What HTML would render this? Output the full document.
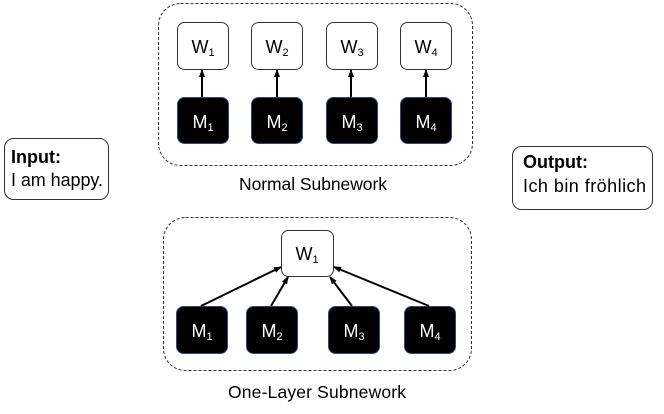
<!DOCTYPE html>
<html><head><style>
body{margin:0;width:664px;height:409px;background:#fff;overflow:hidden;font-family:"Liberation Sans",sans-serif}
</style></head><body>
<svg width="664" height="409" xmlns="http://www.w3.org/2000/svg" font-family="Liberation Sans, sans-serif">
<defs><marker id="a" markerWidth="8" markerHeight="8" refX="7" refY="4" orient="auto" markerUnits="userSpaceOnUse"><path d="M0,1 L8,4 L0,7 z" fill="#000"/></marker></defs>
<rect x="158.5" y="3.5" width="314" height="162" rx="22" fill="none" stroke="#333" stroke-dasharray="3,2"/>
<rect x="163.5" y="217.5" width="308" height="153" rx="22" fill="none" stroke="#333" stroke-dasharray="3,2"/>
<g stroke="#333" fill="#fff">
<rect x="177.5" y="22.5" width="51" height="47" rx="7"/>
<rect x="251.5" y="22.5" width="51" height="47" rx="7"/>
<rect x="326.5" y="22.5" width="51" height="47" rx="7"/>
<rect x="400.5" y="22.5" width="51" height="47" rx="7"/>
<rect x="281.5" y="230.5" width="52" height="46" rx="7"/>
<rect x="4.5" y="138.5" width="104" height="61" rx="9"/>
<rect x="512.5" y="146.5" width="140" height="63" rx="9"/>
</g>
<g fill="#000" stroke="#2a4a7a">
<rect x="177.5" y="97.5" width="51" height="46" rx="7"/>
<rect x="251.5" y="97.5" width="51" height="46" rx="7"/>
<rect x="326.5" y="97.5" width="51" height="46" rx="7"/>
<rect x="400.5" y="97.5" width="51" height="46" rx="7"/>
<rect x="176.5" y="306.5" width="51" height="47" rx="7"/>
<rect x="246.5" y="306.5" width="51" height="47" rx="7"/>
<rect x="328.5" y="306.5" width="51" height="47" rx="7"/>
<rect x="404.5" y="306.5" width="51" height="47" rx="7"/>
</g>
<g stroke="#000" stroke-width="2" marker-end="url(#a)">
<line x1="202" y1="97" x2="202" y2="70"/>
<line x1="277" y1="97" x2="277" y2="70"/>
<line x1="351" y1="97" x2="351" y2="70"/>
<line x1="426" y1="97" x2="426" y2="70"/>
<line x1="201" y1="306" x2="281" y2="267"/>
<line x1="271" y1="306" x2="288" y2="277"/>
<line x1="352" y1="306" x2="330" y2="277"/>
<line x1="429" y1="306" x2="334" y2="267"/>
</g>
<g font-size="18" text-anchor="middle" fill="#000">
<text x="203" y="53">W<tspan font-size="11" dy="3">1</tspan></text>
<text x="277" y="53">W<tspan font-size="11" dy="3">2</tspan></text>
<text x="352" y="53">W<tspan font-size="11" dy="3">3</tspan></text>
<text x="426" y="53">W<tspan font-size="11" dy="3">4</tspan></text>
<text x="307" y="260">W<tspan font-size="11" dy="3">1</tspan></text>
</g>
<g font-size="18" text-anchor="middle" fill="#fff">
<text x="203" y="128">M<tspan font-size="11" dy="3">1</tspan></text>
<text x="277" y="128">M<tspan font-size="11" dy="3">2</tspan></text>
<text x="352" y="128">M<tspan font-size="11" dy="3">3</tspan></text>
<text x="426" y="128">M<tspan font-size="11" dy="3">4</tspan></text>
<text x="202" y="337">M<tspan font-size="11" dy="3">1</tspan></text>
<text x="272" y="337">M<tspan font-size="11" dy="3">2</tspan></text>
<text x="354" y="337">M<tspan font-size="11" dy="3">3</tspan></text>
<text x="430" y="337">M<tspan font-size="11" dy="3">4</tspan></text>
</g>
<g font-size="17.5" fill="#000">
<text x="313" y="190" text-anchor="middle" textLength="148">Normal Subnework</text>
<text x="317" y="398" text-anchor="middle" textLength="178">One-Layer Subnework</text>
<text x="11" y="163" font-weight="bold" font-size="18">Input:</text>
<text x="11" y="186" font-size="18" textLength="92">I am happy.</text>
<text x="523" y="168" font-weight="bold" font-size="18">Output:</text>
<text x="523" y="192" font-size="18" textLength="123">Ich bin fröhlich</text>
</g>
</svg>
</body></html>
